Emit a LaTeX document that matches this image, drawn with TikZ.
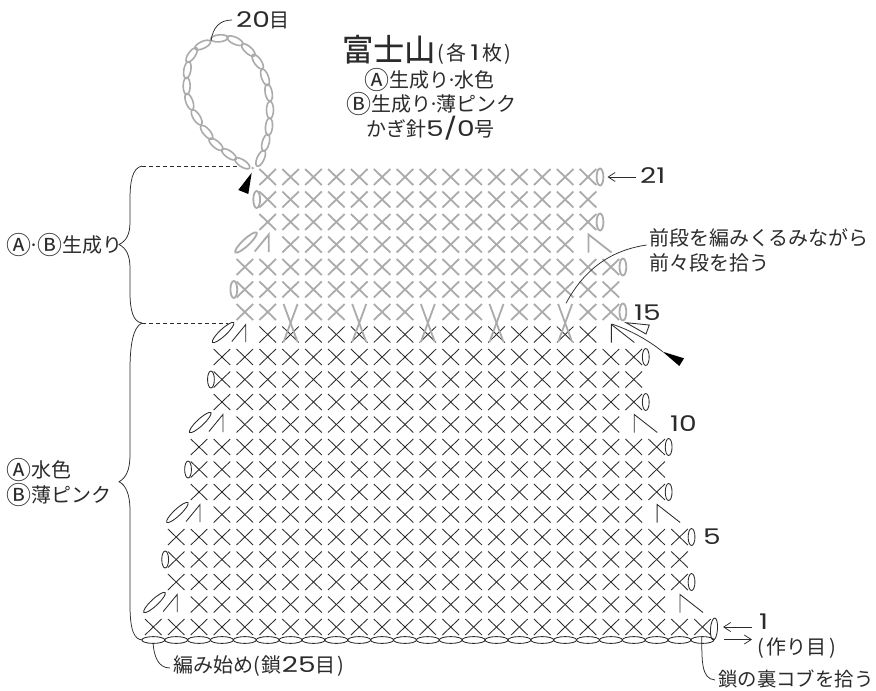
\documentclass[tikz,border=0pt]{standalone}
\usepackage{fontspec}
\usetikzlibrary{arrows.meta}
\setmainfont{Noto Sans CJK JP}
\newfontfamily\dgt[FakeStretch=1.3,Scale=1.08]{Poppins}
\newfontfamily\headfont[FakeBold=0.5]{Noto Sans CJK JP}
\definecolor{ink}{HTML}{2B2B2B}
\definecolor{yarn}{HTML}{ABABAB}
\tikzset{
  darkst/.style={draw=ink,line width=0.85pt},
  greyst/.style={draw=yarn,line width=1.8pt},
  lead/.style={draw=ink,line width=0.75pt},
  dashlead/.style={draw=ink,line width=0.75pt,dash pattern=on 4pt off 3pt},
  lab/.style={inner sep=0pt,anchor=base west,text=ink,font=\fontsize{20pt}{23pt}\selectfont},
  tip/.style={fill=black,draw=none},
}
\newcommand{\cirA}{{\fontsize{25pt}{25pt}\selectfont\raisebox{-2.6pt}{Ⓐ}}}
\newcommand{\cirB}{{\fontsize{25pt}{25pt}\selectfont\raisebox{-2.6pt}{Ⓑ}}}
\newcommand{\mdot}{\kern-3pt·\kern-3pt}
\newcommand{\colx}[1]{153.3+22.88*(#1)}
\newcommand{\rowy}[1]{627-22.5*((#1)-1)}
% row, first column, last column
\newcommand{\stitchrow}[4]{\foreach \stk in {#2,...,#3}{
  \path[#4] ({\colx{\stk}-8.3},{\rowy{#1}-8}) -- ({\colx{\stk}+8.3},{\rowy{#1}+8});
  \path[#4] ({\colx{\stk}-8.3},{\rowy{#1}+8}) -- ({\colx{\stk}+8.3},{\rowy{#1}-8});}}
% row, column of the vertical stroke, style
\newcommand{\decleft}[3]{
  \path[#3,rotate around={43:({\colx{#2}-21.7},{\rowy{#1}-2})}] ({\colx{#2}-21.7},{\rowy{#1}-2}) ellipse [x radius=14.5pt,y radius=3.4pt];
  \path[#3] ({\colx{#2}-13},{\rowy{#1}+7}) -- ({\colx{#2}+1},{\rowy{#1}-10}) -- ({\colx{#2}+1},{\rowy{#1}+7.5});}
\newcommand{\decright}[3]{
  \path[#3] ({\colx{#2}+0.5},{\rowy{#1}+8}) -- ({\colx{#2}+0.5},{\rowy{#1}-10}) -- ({\colx{#2}+23.5},{\rowy{#1}+8});}
% row, x-offset column
\newcommand{\loopright}[3]{\path[#3] ({\colx{#2}+12},{\rowy{#1}}) ellipse [x radius=3.4pt,y radius=8.5pt];}
\newcommand{\loopleft}[3]{\path[#3] ({\colx{#2}-11},{\rowy{#1}}) ellipse [x radius=3.4pt,y radius=8.5pt];}
\begin{document}
\begin{tikzpicture}[x=1pt,y=-1pt]
\useasboundingbox (0,0) rectangle (876,691);
\fill[white] (0,0) rectangle (876,691);
% ---- dark rows
\foreach \rr/\aa/\bb in {1/0/24,2/2/22,3/1/23,4/1/23,5/1/23,6/3/21,7/2/22,8/2/22,9/2/22,10/4/20,11/3/21,12/3/21,13/3/21,14/5/19}{\stitchrow{\rr}{\aa}{\bb}{darkst}}
\foreach \rr/\cc in {2/1,6/2,10/3,14/4}{\decleft{\rr}{\cc}{darkst}}
\foreach \rr/\cc in {2/23,6/22,10/21,14/20}{\decright{\rr}{\cc}{darkst}}
\foreach \rr/\cc in {3/23,5/23,7/22,9/22,11/21,13/21}{\loopright{\rr}{\cc}{darkst}}
\foreach \rr/\cc in {4/1,8/2,12/3}{\loopleft{\rr}{\cc}{darkst}}
\path[darkst,rotate around={-4:(714,629)}] (714,629) ellipse [x radius=3.5pt,y radius=11pt];
\foreach \kk in {0,...,24}{\path[darkst] ({\colx{\kk}},640) ellipse [x radius=11.5pt,y radius=3.4pt];}
% ---- grey rows
\foreach \kk in {4,5,7,8,10,11,13,14,16,17,19,20}{\stitchrow{15}{\kk}{\kk}{greyst}}
\foreach \kk in {6,9,12,15,18}{
  \path[greyst] ({\colx{\kk}-7},304) -- ({\colx{\kk}+7},342);
  \path[greyst] ({\colx{\kk}+7},304) -- ({\colx{\kk}-7},342);}
\foreach \rr/\aa/\bb in {16/4/20,17/4/20,18/6/18,19/5/19,20/5/19,21/5/19}{\stitchrow{\rr}{\aa}{\bb}{greyst}}
\decleft{18}{5}{greyst}
\decright{18}{19}{greyst}
\foreach \rr/\cc in {15/20,17/20,19/19,21/19}{\loopright{\rr}{\cc}{greyst}}
\foreach \rr/\cc in {16/4,20/5}{\loopleft{\rr}{\cc}{greyst}}
% ---- foundation loop, 20 chains
\foreach \zx/\zy/\ang in {337/490/-33,297/463/-35,258/433/-40,230/397/-50,200/352/-58,178/305/-70,170/258/-90,172/210/80,185/165/55,218/135/25,268/115/5,315/122/-25,355/150/-42,383/185/-55,405/232/-70,416/278/-80,420/330/-90,417/380/85,407/428/75,392/475/65}{
  \path[draw=yarn,line width=1.6pt,shift={({130+\zx/3},{\zy/3})},rotate=\ang] (0,0) ellipse [x radius=8.6pt,y radius=3.5pt];}
\fill[yarn] (252.7,168) circle (1.3pt);
% ---- labels
\node[lab] (n20) at (236,27) {{\dgt 20}目};
\node[lab,font=\fontsize{31pt}{32pt}\headfont] (title) at (342,61) {富士山};
\node[lab] (each) at (437,60) {(\kern2.5pt各{\dgt\kern4pt 1\kern3pt}枚\kern2.5pt)};
\node[lab] (tA) at (364,87) {\cirA 生成り\mdot 水色};
\node[lab] (tB) at (346,111) {\cirB 生成り\mdot 薄ピンク};
\node[lab] (tC) at (366,136) {かぎ針{\dgt 5/0}号};
\node[lab] (l21) at (640,183) {\dgt 21};
\node[lab] (note1) at (649,245) {前段を編みくるみながら};
\node[lab] (note2) at (649,270) {前々段を拾う};
\node[lab] (l15) at (634,320) {\dgt 15};
\node[lab] (l10) at (670,431) {\dgt 10};
\node[lab] (l5) at (703,544) {\dgt 5};
\node[lab] (l1) at (759,629) {\dgt 1};
\node[lab] (made) at (757,654) {(\kern3pt作り目\kern3pt)};
\node[lab,font=\fontsize{19.4pt}{23pt}\selectfont] (back) at (718,686) {鎖の裏コブを拾う};
\node[lab] (start) at (173,672) {編み始め(\kern2pt鎖{\dgt 25}目\kern2pt)};
\node[lab] (ab) at (6,252) {\cirA\mdot\kern1pt\cirB 生成り};
\node[lab] (wa) at (6,477) {\cirA 水色};
\node[lab] (wb) at (6,502) {\cirB 薄ピンク};
% ---- leaders
\coordinate (c20) at (211,40.7);
\coordinate (n20w) at (232,20);
\draw[lead] (n20w) .. controls (220,20) and (213,27) .. (c20);
\coordinate (c21a) at (636,177);
\coordinate (c21b) at (607.5,177);
\draw[lead,-{Straight Barb[length=7pt,width=9pt]}] (c21a) -- (c21b);
\coordinate (noteA) at (646.7,245);
\coordinate (noteB) at (566,303.3);
\draw[lead] (noteA) .. controls (612,250) and (585,268) .. (noteB);
\coordinate (r1a) at (752,627);
\coordinate (r1b) at (723,627);
\draw[lead,-{Straight Barb[length=7pt,width=9pt]}] (r1a) -- (r1b);
\coordinate (r0a) at (724,639.5);
\coordinate (r0b) at (752,639.5);
\draw[lead,-{Straight Barb[length=7pt,width=9pt]}] (r0a) -- (r0b);
\coordinate (backA) at (701.7,637);
\coordinate (backB) at (715,680);
\draw[lead] (backA) .. controls (702,660) and (701,679) .. (backB);
\coordinate (startA) at (153,643);
\coordinate (startB) at (170,668);
\draw[lead] (startA) .. controls (154,656) and (158,668) .. (startB);
% ---- braces
\coordinate (bt) at (142,166);
\coordinate (bm) at (142,323);
\coordinate (bb) at (143,640);
\coordinate (tip1) at (119,244.5);
\coordinate (tip2) at (119,481.7);
\draw[lead] (bt) .. controls (132,168) and (130,182) .. (130,200)
  -- (130,222) .. controls (130,235) and (126,241) .. (tip1)
  .. controls (126,248) and (130,255) .. (130,268)
  -- (130,292) .. controls (130,310) and (133,322) .. (bm);
\draw[lead] (bm) .. controls (133,327) and (130,345) .. (130,370)
  -- (130,455) .. controls (130,470) and (126,478) .. (tip2)
  .. controls (126,485) and (130,495) .. (130,510)
  -- (130,605) .. controls (130,630) and (134,640) .. (bb);
\coordinate (dt) at (237,166);
\coordinate (dm) at (228,323);
\draw[dashlead] (bt) -- (dt);
\draw[dashlead] (bm) -- (dm);
% ---- pointers
\path[tip] (251.7,172.7) -- (238.3,190) -- (248.3,194) -- cycle;
\coordinate (ptA) at (611.7,324);
\coordinate (ptB) at (662.7,351.7);
\draw[lead] (ptA) .. controls (630,330) and (648,340) .. (ptB);
\path[tip] (662.7,351.7) -- (684,358.3) -- (679.3,366) -- cycle;
\path[draw=ink,line width=0.85pt,fill=white] (626,322.7) -- (649.3,325) -- (646,334) -- cycle;
\end{tikzpicture}
\end{document}
